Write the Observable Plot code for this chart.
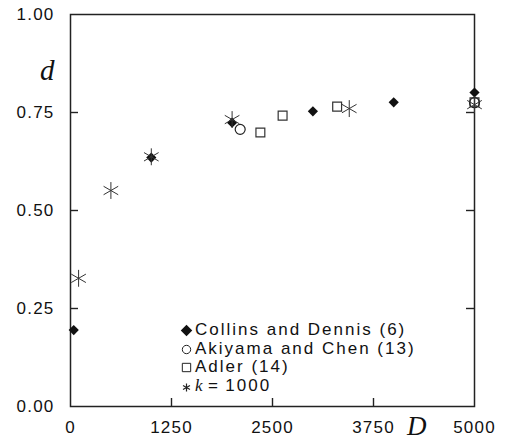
<!DOCTYPE html>
<html><head><meta charset="utf-8">
<script src="https://cdn.jsdelivr.net/npm/d3@7"></script>
<script src="https://cdn.jsdelivr.net/npm/@observablehq/plot@0.6"></script>
<style>
body{margin:0;background:#fff;}
#wrap{position:relative;width:506px;height:440px;background:#fff;}
#wrap svg text{letter-spacing:1.2px;}
.axlab{position:absolute;font-family:"Liberation Serif","Times New Roman",serif;font-style:italic;color:#111;line-height:1;}
#legend{position:absolute;left:179px;top:321px;font-family:"Liberation Sans",Arial,sans-serif;font-size:17px;letter-spacing:2px;color:#111;}
#legend .row{height:18.7px;line-height:18.7px;display:flex;align-items:center;white-space:nowrap;}
#legend .sym{width:15px;height:18.7px;display:inline-block;flex:none;}
#legend i{font-family:"Liberation Serif","Times New Roman",serif;letter-spacing:0;}
</style></head><body><div id="wrap"></div>
<script>
// Data
const collinsD = [40, 1000, 2000, 3000, 4000, 5000];
const collinsVal = [0.195, 0.635, 0.724, 0.753, 0.776, 0.801];
const akiyamaD = [2100, 5000];
const akiyamaVal = [0.707, 0.775];
const adlerD = [2350, 2625, 3300, 5000];
const adlerVal = [0.699, 0.742, 0.765, 0.776];
const kD = [100, 500, 1000, 2000, 3450, 5000];
const kVal = [0.327, 0.551, 0.637, 0.732, 0.760, 0.770];
const xTicks = [0, 1250, 2500, 3750, 5000];
const yTicks = [0, 0.25, 0.5, 0.75, 1];
const legendLabels = ["Collins and Dennis (6)", "Akiyama and Chen (13)", "Adler (14)", "k=1000"];
const legendSymbols = ["diamond2", "circle", "square", "asterisk"];

const pts = (D, v) => D.map((x, i) => ({D: x, d: v[i]}));
const W = 506, H = 440, ML = 70, MR = 32, MT = 14, MB = 34, TICK = 8;
const fw = W - ML - MR, fh = H - MT - MB;

const plot = Plot.plot({
  width: W, height: H,
  marginLeft: ML, marginRight: MR, marginTop: MT, marginBottom: MB,
  x: {domain: [0, 5000], label: null},
  y: {domain: [0, 1], label: null},
  style: {fontFamily: "'Liberation Sans', Arial, sans-serif", fontSize: "17px", color: "#111", background: "#fff"},
  marks: [
    Plot.frame({stroke: "#222", strokeWidth: 1.5}),
    // tick labels
    Plot.axisX({ticks: xTicks, tickSize: 0, tickPadding: 14, tickFormat: d => String(d), label: null}),
    Plot.axisY({ticks: yTicks, tickSize: 0, tickPadding: 16, tickFormat: d3.format(".2f"), label: null}),
    // inward tick marks
    Plot.ruleX(xTicks.slice(1, 4), {x: d => d, insetTop: fh - TICK, stroke: "#222", strokeWidth: 1.4}),
    Plot.ruleY(yTicks.slice(1, 4), {y: d => d, insetRight: fw - TICK, stroke: "#222", strokeWidth: 1.4}),
    Plot.ruleY(yTicks.slice(1, 4), {y: d => d, insetLeft: fw - TICK, stroke: "#222", strokeWidth: 1.4}),
    Plot.dot(pts(adlerD, adlerVal), {x: "D", y: "d", symbol: "square", r: 5, stroke: "#333", strokeWidth: 1.2, fill: "none"}),
    Plot.dot(pts(akiyamaD, akiyamaVal), {x: "D", y: "d", symbol: "circle", r: 5, stroke: "#222", strokeWidth: 1.2, fill: "none"}),
    Plot.dot(pts(collinsD, collinsVal), {x: "D", y: "d", symbol: "diamond2", r: 4.6, fill: "#111", stroke: "none"}),
    Plot.dot(pts(kD, kVal), {x: "D", y: "d", symbol: "asterisk", r: 8, stroke: "#333", strokeWidth: 1}),
  ]
});
const wrap = document.getElementById("wrap");
wrap.appendChild(plot);

const dl = document.createElement("div");
dl.className = "axlab"; dl.textContent = "d";
dl.style.cssText = "left:40px;top:56px;font-size:29px;";
wrap.appendChild(dl);
const Dl = document.createElement("div");
Dl.className = "axlab"; Dl.textContent = "D";
Dl.style.cssText = "left:407px;top:413px;font-size:27px;";
wrap.appendChild(Dl);

const leg = document.createElement("div");
leg.id = "legend";
const symSizes = {diamond2: 85, circle: 55, square: 70, asterisk: 45};
const symMap = {diamond2: d3.symbolDiamond2, circle: d3.symbolCircle, square: d3.symbolSquare, asterisk: d3.symbolAsterisk};
legendLabels.forEach((lab, i) => {
  const row = document.createElement("div"); row.className = "row";
  const s = legendSymbols[i];
  const svg = d3.create("svg").attr("class", "sym").attr("width", 15).attr("height", 18.7);
  const filled = s === "diamond2";
  svg.append("path")
    .attr("transform", `translate(7.5,${s === "asterisk" ? 10.5 : 9.5})`)
    .attr("d", d3.symbol(symMap[s], symSizes[s])())
    .attr("fill", filled ? "#111" : "none")
    .attr("stroke", filled ? "none" : "#222")
    .attr("stroke-width", s === "asterisk" ? 1.2 : 1);
  row.appendChild(svg.node());
  const t = document.createElement("span");
  t.style.marginLeft = "1px";
  if (lab.startsWith("k=")) {
    t.innerHTML = "<i>k</i>&thinsp;=&thinsp;" + lab.slice(2);
  } else t.textContent = lab;
  row.appendChild(t);
  leg.appendChild(row);
});
wrap.appendChild(leg);
</script></body></html>
